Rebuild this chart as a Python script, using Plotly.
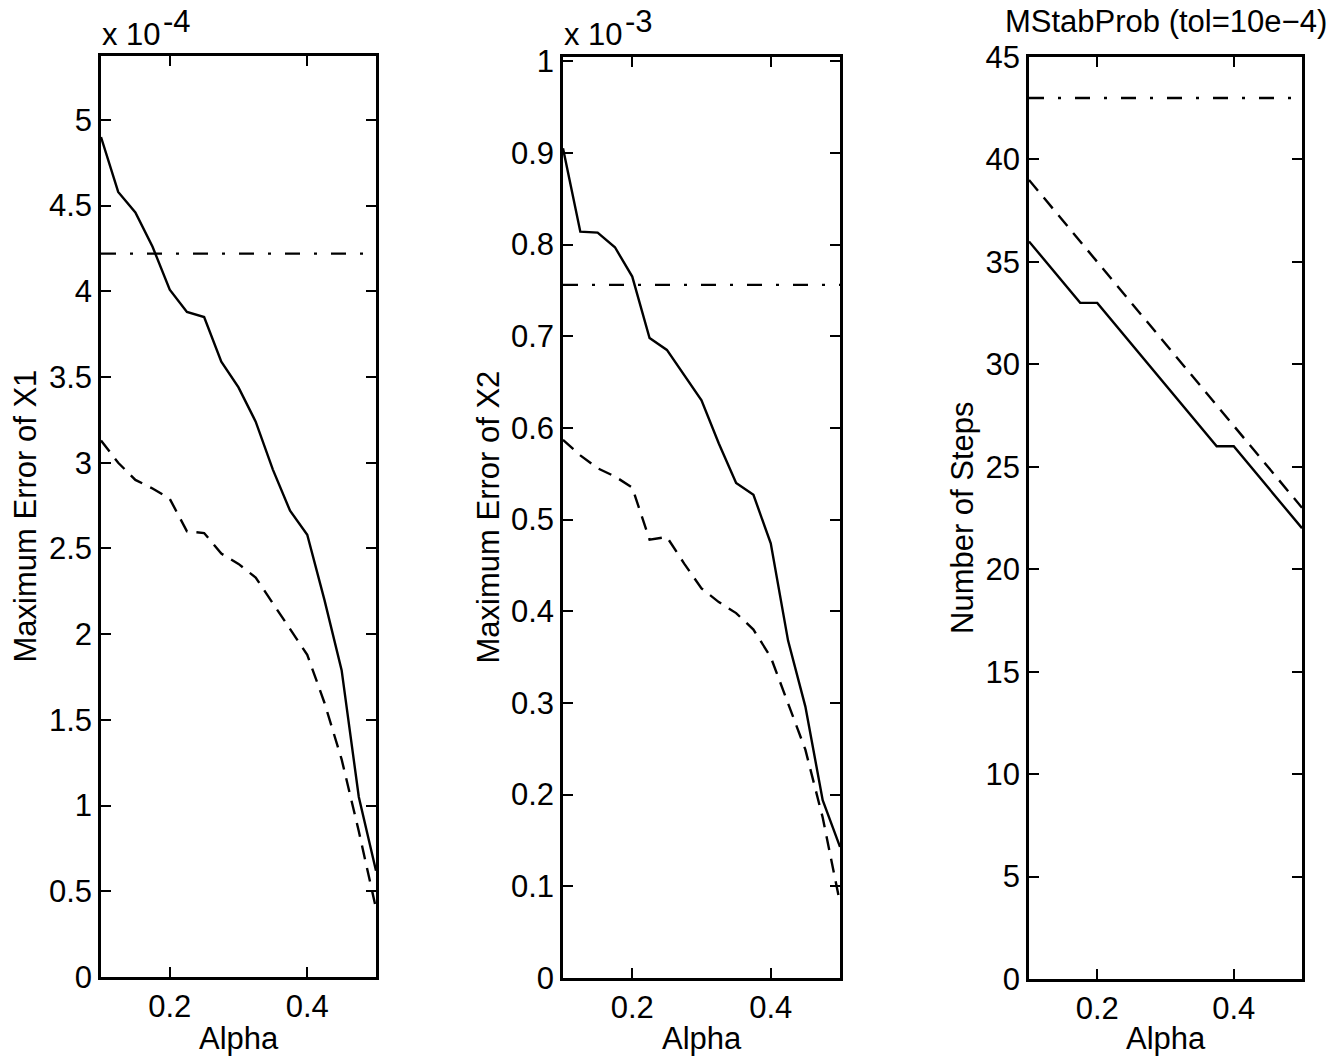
import plotly.graph_objects as go

# ---- data ----
alpha = [0.1, 0.125, 0.15, 0.175, 0.2, 0.225, 0.25, 0.275, 0.3,
         0.325, 0.35, 0.375, 0.4, 0.425, 0.45, 0.475, 0.5]

# Maximum error of X1 (x 1e-4)
x1_solid = [4.90, 4.58, 4.46, 4.26, 4.01, 3.88, 3.85, 3.59, 3.44,
            3.24, 2.96, 2.72, 2.58, 2.20, 1.79, 1.05, 0.62]
x1_dashed = [3.13, 3.00, 2.90, 2.85, 2.79, 2.60, 2.59, 2.47, 2.41,
             2.33, 2.18, 2.03, 1.88, 1.60, 1.27, 0.85, 0.40]
x1_dashdot = [4.22, 4.22]

# Maximum error of X2 (x 1e-3)
x2_solid = [0.905, 0.814, 0.813, 0.797, 0.765, 0.698, 0.685, 0.658, 0.630,
            0.583, 0.540, 0.527, 0.474, 0.368, 0.296, 0.194, 0.143]
x2_dashed = [0.587, 0.570, 0.556, 0.547, 0.535, 0.478, 0.481, 0.452, 0.425,
             0.410, 0.398, 0.380, 0.350, 0.300, 0.249, 0.175, 0.082]
x2_dashdot = [0.756, 0.756]

# Number of steps
steps_solid = [36, 35, 34, 33, 33, 32, 31, 30, 29, 28, 27, 26, 26, 25, 24, 23, 22]
steps_dashed = [39, 38, 37, 36, 35, 34, 33, 32, 31, 30, 29, 28, 27, 26, 25, 24, 23]
steps_dashdot = [43, 43]

alpha_ends = [0.1, 0.5]
x_ticks = [0.2, 0.4]

# ---- figure ----
W, H = 1344, 1061
FONT = "Liberation Sans, Arial, Helvetica, sans-serif"
FS = 31

def px_x(p):
    return p / W

def px_y(p):
    return 1 - p / H

fig = go.Figure()

panels = [
    ("x", "y", x1_solid, x1_dashed, x1_dashdot),
    ("x2", "y2", x2_solid, x2_dashed, x2_dashdot),
    ("x3", "y3", steps_solid, steps_dashed, steps_dashdot),
]
for xa, ya, s, d, dd in panels:
    fig.add_trace(go.Scatter(x=alpha, y=s, mode="lines", xaxis=xa, yaxis=ya,
                             line=dict(color="black", width=2.4), showlegend=False))
    fig.add_trace(go.Scatter(x=alpha, y=d, mode="lines", xaxis=xa, yaxis=ya,
                             line=dict(color="black", width=2.4, dash="14px,9px"),
                             showlegend=False))
    fig.add_trace(go.Scatter(x=alpha_ends, y=dd, mode="lines", xaxis=xa, yaxis=ya,
                             line=dict(color="black", width=2.4, dash="15px,14px,3px,14px"),
                             showlegend=False))

axis_common = dict(
    showline=True, linecolor="black", linewidth=2.5, mirror="ticks",
    ticks="inside", ticklen=10, tickwidth=1.5, tickcolor="black",
    showgrid=False, zeroline=False, automargin=False,
    tickfont=dict(family=FONT, size=FS, color="black"),
)

xdoms = [(101, 376), (563, 840), (1029, 1302)]
ydoms = [(56, 977), (57, 978), (57, 979)]
yranges = [[0, 5.373], [0, 1.0045], [0, 45]]
ydticks = [0.5, 0.1, 5]

layout = dict(
    width=W, height=H, margin=dict(l=0, r=0, t=0, b=0),
    paper_bgcolor="white", plot_bgcolor="white",
    font=dict(family=FONT, size=FS, color="black"),
)
for i in range(3):
    sfx = "" if i == 0 else str(i + 1)
    layout["xaxis" + sfx] = dict(
        axis_common, domain=[px_x(xdoms[i][0]), px_x(xdoms[i][1])],
        range=[0.1, 0.5], tickvals=x_ticks, ticktext=["0.2", "0.4"],
        anchor="y" + sfx,
    )
    layout["yaxis" + sfx] = dict(
        axis_common, domain=[px_y(ydoms[i][1]), px_y(ydoms[i][0])],
        range=yranges[i], tick0=0, dtick=ydticks[i], anchor="x" + sfx,
        ticklabelstandoff=0,
    )
fig.update_layout(**layout)

ann = []
tf = dict(family=FONT, size=FS, color="black")
# y-axis titles
ylabels = ["Maximum Error of X1", "Maximum Error of X2", "Number of Steps"]
ylab_x = [25, 488, 962]
for i in range(3):
    ann.append(dict(text=ylabels[i], xref="paper", yref="paper",
                    x=px_x(ylab_x[i]), y=px_y((ydoms[i][0] + ydoms[i][1]) / 2),
                    textangle=-90, showarrow=False, xanchor="center", yanchor="middle",
                    font=tf))
    ann.append(dict(text="Alpha", xref="paper", yref="paper",
                    x=px_x((xdoms[i][0] + xdoms[i][1]) / 2), y=px_y(1038),
                    showarrow=False, xanchor="center", yanchor="middle",
                    font=tf))
# exponent labels
for i, e in enumerate(["-4", "-3"]):
    ann.append(dict(text="x 10", xref="paper", yref="paper",
                    x=px_x(xdoms[i][0] - 1), y=px_y(34), showarrow=False,
                    xanchor="left", yanchor="middle", font=tf))
    ann.append(dict(text=e, xref="paper", yref="paper",
                    x=px_x(xdoms[i][0] + 60), y=px_y(22), showarrow=False,
                    xanchor="left", yanchor="middle", font=tf))
# title of third panel
ann.append(dict(text="MStabProb (tol=10e−4)", xref="paper", yref="paper",
                x=px_x((xdoms[2][0] + xdoms[2][1]) / 2), y=px_y(22), showarrow=False,
                xanchor="center", yanchor="middle", font=tf))
fig.update_layout(annotations=ann)

fig.write_html("out.html", config={"displayModeBar": False},
               post_script="document.body.style.margin='0';")
